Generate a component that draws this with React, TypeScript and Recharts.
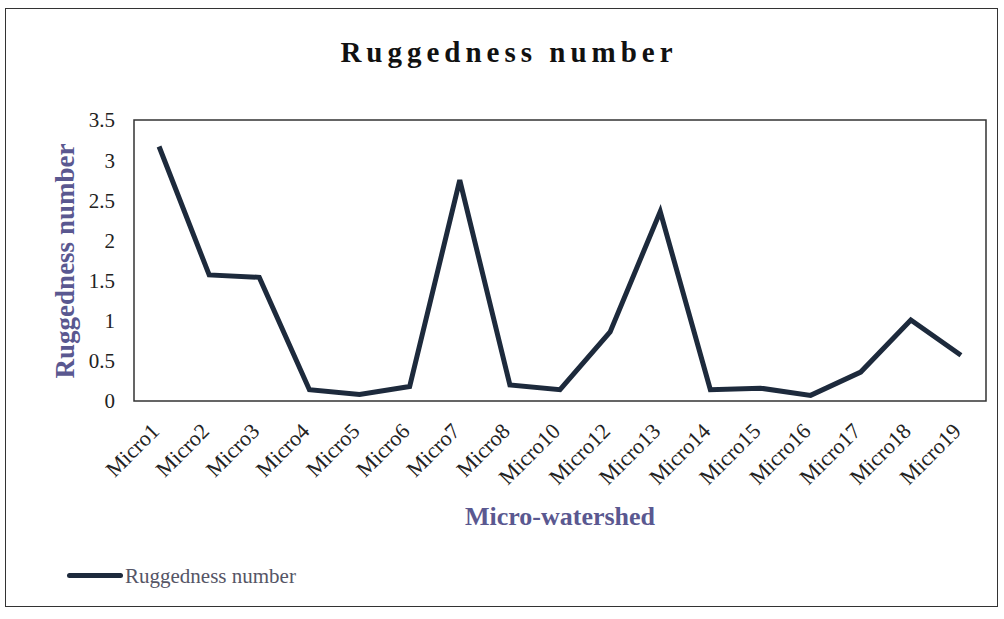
import React from 'react';
import { LineChart, Line, XAxis, YAxis, ReferenceArea } from 'recharts';

const categories = [
  'Micro1', 'Micro2', 'Micro3', 'Micro4', 'Micro5', 'Micro6', 'Micro7', 'Micro8', 'Micro10',
  'Micro12', 'Micro13', 'Micro14', 'Micro15', 'Micro16', 'Micro17', 'Micro18', 'Micro19',
];
const ruggedness = [3.17, 1.57, 1.54, 0.14, 0.08, 0.18, 2.75, 0.2, 0.14, 0.86, 2.36, 0.14, 0.16, 0.07, 0.36, 1.01, 0.57];
const yTicks = [0, 0.5, 1, 1.5, 2, 2.5, 3, 3.5];

const data = categories.map((name, i) => ({ name, value: ruggedness[i] }));

const FONT = '"Liberation Serif", "Times New Roman", serif';
const LINE_COLOR = '#1d2a3c';
const AXIS_TITLE = '#5a5890';

const RotatedTick = (props: any) => {
  const { x, y, payload } = props;
  return (
    <g transform={`translate(${x - 4},${y + 24})`}>
      <text
        transform="rotate(-45)"
        textAnchor="end"
        dy="0.35em"
        fontSize={22}
        fontFamily={FONT}
        fill="#222"
      >
        {payload.value}
      </text>
    </g>
  );
};

export default function App() {
  return (
    <div style={{ position: 'absolute', left: 0, top: 0, width: 1004, height: 619, background: '#fff', fontFamily: FONT }}>
      {/* outer frame */}
      <div style={{ position: 'absolute', left: 5, top: 8, width: 993, height: 599, border: '1.5px solid #333', boxSizing: 'border-box' }} />

      <div style={{ position: 'absolute', left: 509, top: 52, transform: 'translate(-50%, -50%)', fontSize: 29, fontWeight: 'bold', letterSpacing: 5, color: '#111', whiteSpace: 'nowrap' }}>
        Ruggedness number
      </div>

      <LineChart
        width={1004}
        height={619}
        data={data}
        margin={{ top: 120, right: 18, left: 74, bottom: 138 }}
        style={{ position: 'absolute', left: 0, top: 0 }}
      >
        <XAxis
          dataKey="name"
          scale="band"
          interval={0}
          axisLine={false}
          tickLine={false}
          tickSize={0}
          height={80}
          tick={<RotatedTick />}
        />
        <YAxis
          domain={[0, 3.5]}
          ticks={yTicks}
          width={60}
          axisLine={false}
          tickLine={false}
          tickSize={0}
          tickMargin={19}
          tick={{ fontSize: 21, fontFamily: FONT, fill: '#222' }}
        />
        <ReferenceArea y1={0} y2={3.5} fill="none" stroke="#333" strokeWidth={1.5} fillOpacity={0} />
        <Line
          type="linear"
          dataKey="value"
          stroke={LINE_COLOR}
          strokeWidth={5}
          dot={false}
          isAnimationActive={false}
        />
      </LineChart>

      {/* y axis title */}
      <div style={{ position: 'absolute', left: 65, top: 261, transform: 'translate(-50%, -50%) rotate(-90deg)', fontSize: 27, fontWeight: 'bold', color: AXIS_TITLE, whiteSpace: 'nowrap' }}>
        Ruggedness number
      </div>

      {/* x axis title */}
      <div style={{ position: 'absolute', left: 560, top: 517, transform: 'translate(-50%, -50%)', fontSize: 26, fontWeight: 'bold', color: AXIS_TITLE, whiteSpace: 'nowrap' }}>
        Micro-watershed
      </div>

      {/* legend */}
      <div style={{ position: 'absolute', left: 67, top: 573, width: 56, height: 5, borderRadius: 3, background: LINE_COLOR }} />
      <div style={{ position: 'absolute', left: 125, top: 576, transform: 'translateY(-50%)', fontSize: 21, color: '#555566', whiteSpace: 'nowrap' }}>
        Ruggedness number
      </div>
    </div>
  );
}
